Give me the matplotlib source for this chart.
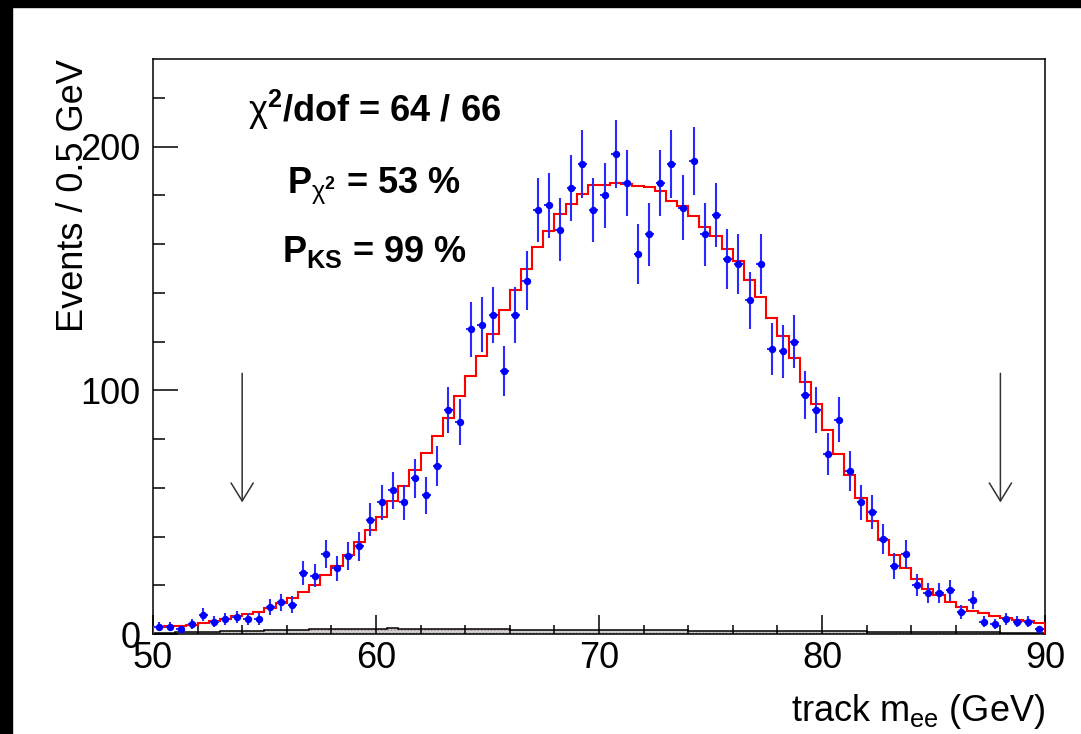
import numpy as np
import matplotlib
matplotlib.use("Agg")
import matplotlib.pyplot as plt
from matplotlib.patches import Rectangle
from matplotlib.ticker import MultipleLocator

plt.rcParams['font.family'] = ['Liberation Sans', 'DejaVu Sans']
plt.rcParams['mathtext.fontset'] = 'custom'
plt.rcParams['mathtext.rm'] = 'Liberation Sans'
plt.rcParams['mathtext.it'] = 'Liberation Sans:italic'
plt.rcParams['mathtext.bf'] = 'Liberation Sans:bold'
plt.rcParams['hatch.color'] = '#8a8080'
plt.rcParams['hatch.linewidth'] = 0.6

# 80 bins of 0.5 GeV between 50 and 90 GeV
bin_edges = np.linspace(50, 90, 81)

data_counts = [
    3, 3, 2, 4, 8, 5, 6, 7, 6, 6,
    11, 13, 12, 25, 24, 33, 27, 32, 36, 47,
    54, 59, 54, 64, 57, 69, 92, 87, 125, 127,
    131, 108, 131, 145, 174, 176, 166, 183, 193, 174,
    180, 197, 185, 156, 164, 185, 193, 175, 194, 164,
    172, 154, 152, 137, 152, 117, 116, 120, 98, 92,
    74, 88, 67, 54, 50, 39, 28, 33, 20, 17,
    17, 18, 9, 14, 5, 4, 6, 5, 5, 2,
]

mc_total = [
    2.9, 3.1, 3.4, 3.9, 4.5, 5.2, 6.2, 7.2, 8.3, 9.2,
    10.7, 12.7, 14.8, 17.1, 20.0, 24.4, 28.0, 32.5, 37.6, 42.5,
    47.9, 54.5, 60.6, 67.5, 74.3, 81.1, 88.7, 97.5, 105.7, 114.3,
    123.1, 132.9, 141.4, 150.0, 158.8, 165.3, 172.2, 176.4, 180.4, 184.4,
    184.4, 185.2, 184.9, 184.0, 183.6, 181.8, 177.8, 175.6, 171.5, 167.1,
    163.4, 158.1, 153.0, 145.5, 138.4, 129.8, 122.5, 113.1, 103.6, 94.5,
    83.9, 74.0, 65.1, 56.0, 46.5, 38.5, 32.5, 27.2, 22.6, 18.5,
    16.0, 13.0, 11.2, 9.4, 8.5, 7.4, 6.6, 5.9, 5.2, 4.5,
]

background = [
    0.5, 0.6, 0.7, 0.8, 0.9, 1.0, 1.1, 1.2, 1.3, 1.4,
    1.5, 1.6, 1.7, 1.8, 1.9, 2.0, 2.1, 2.1, 2.2, 2.2,
    2.2, 2.3, 2.2, 2.2, 2.1, 2.1, 2.0, 2.0, 2.0, 1.9,
    1.9, 1.9, 1.8, 1.8, 1.8, 1.8, 1.7, 1.7, 1.7, 1.7,
    1.6, 1.6, 1.6, 1.6, 1.5, 1.5, 1.5, 1.5, 1.4, 1.4,
    1.4, 1.4, 1.3, 1.3, 1.3, 1.3, 1.2, 1.2, 1.2, 1.2,
    1.1, 1.1, 1.1, 1.1, 1.0, 1.0, 1.0, 0.9, 0.9, 0.9,
    0.8, 0.8, 0.8, 0.7, 0.7, 0.7, 0.6, 0.6, 0.6, 0.5,
]

cut_positions = [54, 88]
arrow_top, arrow_tip = 107, 54

fit_lines = [
    r"$\mathrm{\chi}^{\mathbf{2}}$/dof = 64 / 66",
    r"P$_{\mathrm{\chi}^{\mathbf{2}}}$ = 53 %",
    r"P$_{\mathbf{KS}}$ = 99 %",
]

fig = plt.figure(figsize=(10.81, 7.34), dpi=100)
ax = fig.add_axes([0.1415, 0.1362, 0.8252, 0.7834])

# slide border remnants
fig.patches.append(Rectangle((0, 1 - 7 / 734), 1, 7 / 734, transform=fig.transFigure,
                             color='black', zorder=10))
fig.patches.append(Rectangle((0, 0), 12 / 1081, 1, transform=fig.transFigure,
                             color='black', zorder=10))

counts = np.array(data_counts, dtype=float)
centers = 0.5 * (bin_edges[:-1] + bin_edges[1:])

ax.stairs(background, bin_edges, fill=True, facecolor='#d6cfcf', edgecolor='#8a8080',
          hatch='.....', lw=0, zorder=1)
ax.stairs(background, bin_edges, color='black', lw=1.1, zorder=2)
ax.stairs(mc_total, bin_edges, color='red', lw=1.5, zorder=3)
ax.errorbar(centers, counts, yerr=np.sqrt(counts), xerr=0.2, fmt='o', ms=4.3,
            color='blue', ecolor='#2a2aff', elinewidth=1.5, capsize=0, zorder=4)

for xc in cut_positions:
    ax.annotate('', xy=(xc, arrow_tip), xytext=(xc, arrow_top),
                arrowprops=dict(arrowstyle='->,head_length=1.3,head_width=0.8',
                                mutation_scale=10, color='#333333', lw=1.1,
                                shrinkA=0, shrinkB=0))

for text, ypos in zip(fit_lines, [0.891, 0.7675, 0.6475]):
    ax.text(0.248, ypos, text, transform=ax.transAxes, ha='center', va='baseline',
            fontsize=26, fontweight='bold')

ax.set_xlim(50, 90)
ax.set_ylim(0, 236)

ax.xaxis.set_major_locator(MultipleLocator(10))
ax.xaxis.set_minor_locator(MultipleLocator(2))
ax.yaxis.set_major_locator(MultipleLocator(100))
ax.yaxis.set_minor_locator(MultipleLocator(20))
ax.tick_params(which='both', direction='in', top=False, right=False, width=1.1)
ax.tick_params(axis='y', which='major', length=18, pad=9, labelsize=26)
ax.tick_params(axis='y', which='minor', length=8.6)
ax.tick_params(axis='x', which='major', length=13.7, pad=5, labelsize=26)
ax.tick_params(axis='x', which='minor', length=6.8)
for sp in ax.spines.values():
    sp.set_linewidth(1.1)

ax.set_ylabel('Events / 0.5 GeV', fontsize=26, loc='top')
ax.yaxis.set_label_coords(-0.069, 1.0)
ax.set_xlabel(r'track m$_{\mathrm{ee}}$ (GeV)', fontsize=26, loc='right')
ax.xaxis.set_label_coords(1.0, -0.1)

fig.savefig('out.png', dpi=100)
